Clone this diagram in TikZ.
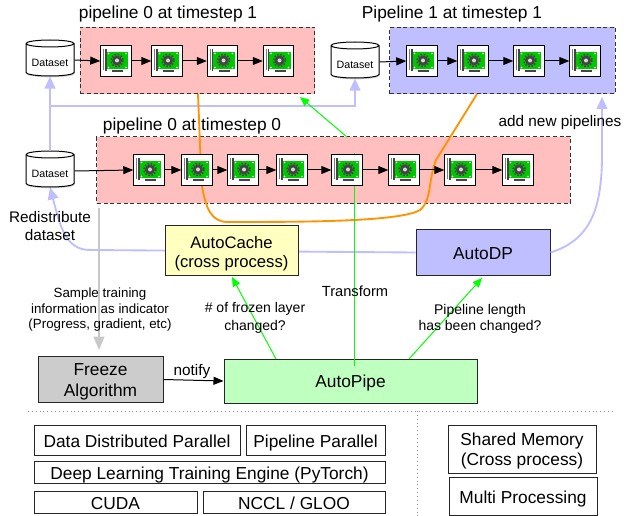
\documentclass[tikz,border=0pt]{standalone}
\usepackage{fontspec}
\setmainfont{Liberation Sans}
\usetikzlibrary{arrows.meta,shapes.geometric,shadows,backgrounds}

\definecolor{pinkbox}{HTML}{FFBFBF}
\definecolor{bluebox}{HTML}{BFBFFF}
\definecolor{yellowbox}{HTML}{FFFFC0}
\definecolor{greenbox}{HTML}{BFFFBF}
\definecolor{graybox}{HTML}{CCCCCC}
\definecolor{cardgreen}{HTML}{00C800}
\definecolor{linkorange}{HTML}{FF9400}
\definecolor{linkgray}{HTML}{C8C8C8}
\definecolor{cardgray}{HTML}{444444}

\newcommand{\fs}[1]{\fontsize{#1}{#1}\selectfont}

\tikzset{
    stagebox/.style={draw=black!80,line width=0.75pt,dash pattern=on 3pt off 2pt,inner sep=0pt},
    plainbox/.style={draw=black!85,line width=0.75pt,inner sep=0pt,align=center,text depth=3pt,font=\fontsize{13}{15}\selectfont},
    oneline/.style={plainbox,text height=12.8pt},
    twolines/.style={plainbox,text height=27.8pt},
    dataset/.style={draw=black,fill=white,line width=0.75pt,cylinder,shape border rotate=90,shape aspect=0.19,
        minimum width=36pt,minimum height=27pt,inner sep=0pt,text height=10.5pt,font=\fs{8},
        drop shadow={shadow xshift=0.4pt,shadow yshift=-1pt,opacity=.35}},
    gpucard/.style={draw=black,fill=white,line width=0.6pt,minimum size=23pt,inner sep=0pt},
    flow/.style={draw=black,line width=0.75pt,-{Triangle[length=7.5pt,width=6pt]}},
    bluelink/.style={draw=bluebox,line width=1.4pt},
    bluetip/.style={-{Triangle[length=9pt,width=8pt]}},
    greenlink/.style={draw=green,line width=0.75pt},
    greentip/.style={-{Triangle[length=7pt,width=6pt]}},
    orangelink/.style={draw=linkorange,line width=1.4pt},
    graylink/.style={draw=linkgray,line width=1.5pt,-{Triangle[length=10pt,width=8pt]}},
    dots/.style={draw=black!45,line width=0.6pt,dash pattern=on 0.7pt off 2.2pt},
    caption/.style={inner sep=0pt,align=center},
}

% one accelerator card, name and position
\newcommand{\gpu}[2]{
    \begin{scope}[shift={(#2)}]
        \node [gpucard] (#1) at (0,0) {};
        \fill [cardgray!70] (-13,-12) rectangle (-12,9);
        \fill [cardgray] (-11,-12) rectangle (-9.5,10);
        \fill [cardgreen] (-9.5,-9) rectangle (12,8);
        \fill [cardgray] (-4,9) rectangle (7,11.5);
        \fill [white] (-7.5,-7.5) circle (0.9) (10,-7.5) circle (0.9) (-7.5,6.5) circle (0.9) (10,6.5) circle (0.9);
        \fill [cardgray] (1,-0.5) circle (5);
        \draw [cardgray,line width=1.2pt,dash pattern=on 1.2pt off 1.2pt] (1,-0.5) circle (6);
        \fill [white!85!black] (1,-0.5) circle (2);
    \end{scope}
}

\begin{document}
\begin{tikzpicture}[x=0.75pt,y=0.75pt,yscale=-1,xscale=1]
    \useasboundingbox (0,0) rectangle (634,516);

    %Pipeline backgrounds
    \node [stagebox,fill=pinkbox,minimum width=176pt,minimum height=50pt] (pipeA) at (197.5,60.5) {};
    \node [stagebox,fill=bluebox,minimum width=169pt,minimum height=50pt] (pipeB) at (502.5,60.5) {};
    \node [stagebox,fill=pinkbox,minimum width=355pt,minimum height=50pt] (pipeC) at (333.5,170) {};

    %Titles
    \node [caption,font=\fs{13}] (titleA) at (168,14.5) {pipeline 0 at timestep 1};
    \node [caption,font=\fs{13}] (titleB) at (452,14.5) {Pipeline 1 at timestep 1};
    \node [caption,font=\fs{13}] (titleC) at (192,126.5) {pipeline 0 at timestep 0};

    %Datasets
    \node [dataset] (dsA) at (50,60) {Dataset};
    \node [dataset] (dsB) at (355,62) {Dataset};
    \node [dataset] (dsC) at (50,171) {Dataset};

    %Boxes
    \node [twolines,fill=yellowbox,minimum width=99.75pt,minimum height=38pt,text height=28.4pt,font=\fontsize{12.5}{14.3}\selectfont] (cache) at (231.5,250.5) {AutoCache\\(cross process)};
    \node [oneline,fill=bluebox,minimum width=100.5pt,minimum height=35pt] (dp) at (483,252.5) {AutoDP};
    \node [twolines,fill=graybox,minimum width=93.75pt,minimum height=35pt,text height=28.3pt,font=\fontsize{13}{15.5}\selectfont] (freeze) at (100.5,379.5) {Freeze\\Algorithm};
    \node [oneline,fill=greenbox,minimum width=189.75pt,minimum height=33pt] (pipe) at (350.5,381) {AutoPipe};

    %Free ends of the links
    \coordinate (blueMid) at (50,106);
    \coordinate (redistA) at (90,250);
    \coordinate (newTip) at (602,97);
    \coordinate (orangeA) at (198,94);
    \coordinate (orangeB) at (477,94);
    \coordinate (grayA) at (99,208);
    \coordinate (grayB) at (99,350);
    \coordinate (copyA) at (347,137);
    \coordinate (copyB) at (300,97);
    \coordinate (frozenA) at (276,359);
    \coordinate (frozenB) at (232,277);
    \coordinate (lengthA) at (409,359);
    \coordinate (lengthB) at (482,278);
    \coordinate (transA) at (354,366);
    \coordinate (transB) at (354,153);

    %Blue links
    \draw [bluelink,bluetip] (dsC.north) -- (dsA.south);
    \draw [bluelink,bluetip] (blueMid) -| (dsB.south);
    \begin{pgfonlayer}{background}
        \draw [bluelink,bluetip] (dp.west) -- (redistA) .. controls (65,250) and (60,225) .. (dsC.south);
    \end{pgfonlayer}
    \draw [bluelink,bluetip] (dp.east) .. controls (590,240) and (601,210) .. (602,160) -- (newTip);

    %Orange link
    \draw [orangelink] (orangeA) -- (201,170) -- (202,186) .. controls (206,210) and (212,222) .. (228,222)
        .. controls (300,222) and (400,222) .. (420,210) .. controls (432,200) and (428,180) .. (436,160) -- (orangeB);

    %Gray and black links
    \draw [graylink] (grayA) -- (grayB);
    \draw [flow] (freeze.east) -- (pipe.west);

    %Green links
    \draw [greenlink,greentip] (copyA) -- (copyB);
    \draw [greenlink,greentip] (frozenA) -- (frozenB);
    \draw [greenlink,greentip] (lengthA) -- (lengthB);
    \draw [greenlink] (transA) -- (transB);

    %Cards
    \foreach \i/\x in {1/116,2/167,3/222.5,4/278.5} \gpu{gpuA\i}{\x,61};
    \foreach \i/\x in {1/422,2/473,3/529,4/585} \gpu{gpuB\i}{\x,61};
    \foreach \i/\x in {1/149,2/197,3/243,4/292,5/347,6/404,7/460,8/518} \gpu{gpuC\i}{\x,170};

    \foreach \i/\j in {1/2,2/3,3/4} \draw [flow] (gpuA\i) -- (gpuA\j);
    \foreach \i/\j in {1/2,2/3,3/4} \draw [flow] (gpuB\i) -- (gpuB\j);
    \foreach \i/\j in {1/2,2/3,3/4,4/5,5/6,6/7,7/8} \draw [flow] (gpuC\i) -- (gpuC\j);
    \draw [flow] (dsA.east) -- (gpuA1.west);
    \draw [flow] (dsB.east) -- (gpuB1.west);
    \draw [flow] (dsC.east) -- (gpuC1.west);

    %Labels
    \node [caption,font=\fontsize{11.5}{13}\selectfont] (redist) at (50,226) {Redistribute\\dataset};
    \node [caption,font=\fontsize{10}{11.6}\selectfont] (sample) at (100,310) {Sample training\\information as indicator\\(Progress, gradient, etc)};
    \node [caption,font=\fontsize{10.5}{13}\selectfont] (frozen) at (255,318) {\# of frozen layer\\changed?};
    \node [caption,font=\fs{11}] (transform) at (355,291) {Transform};
    \node [caption,font=\fontsize{10.5}{12.5}\selectfont] (length) at (480,319) {Pipeline length\\has been changed?};
    \node [caption,font=\fs{11.5}] (newpipes) at (560,123) {add new pipelines};
    \node [caption,font=\fs{11.5}] (notify) at (192,372) {notify};

    %Dotted separators
    \coordinate (sepL) at (28,411);
    \coordinate (sepR) at (614,411);
    \coordinate (sepM) at (417,411);
    \coordinate (sepD) at (417,516);
    \draw [dots] (sepL) -- (sepR);
    \draw [dots] (sepM) -- (sepD);

    %Software stack
    \node [oneline,minimum width=154.5pt,minimum height=23pt] (ddp) at (137,440.5) {Data Distributed Parallel};
    \node [oneline,minimum width=104.25pt,minimum height=23pt] (pp) at (315.5,440.5) {Pipeline Parallel};
    \node [oneline,minimum width=263.25pt,minimum height=17pt] (engine) at (209.5,472.5) {Deep Learning Training Engine (PyTorch)};
    \node [oneline,minimum width=122.25pt,minimum height=17pt] (cuda) at (115.5,502.5) {CUDA};
    \node [oneline,minimum width=136.5pt,minimum height=17pt] (nccl) at (294,502.5) {NCCL / GLOO};
    \node [twolines,minimum width=111pt,minimum height=36pt] (shm) at (522,449) {Shared Memory\\(Cross process)};
    \node [oneline,minimum width=111pt,minimum height=28pt] (mp) at (523,496.5) {Multi Processing};
\end{tikzpicture}
\end{document}
